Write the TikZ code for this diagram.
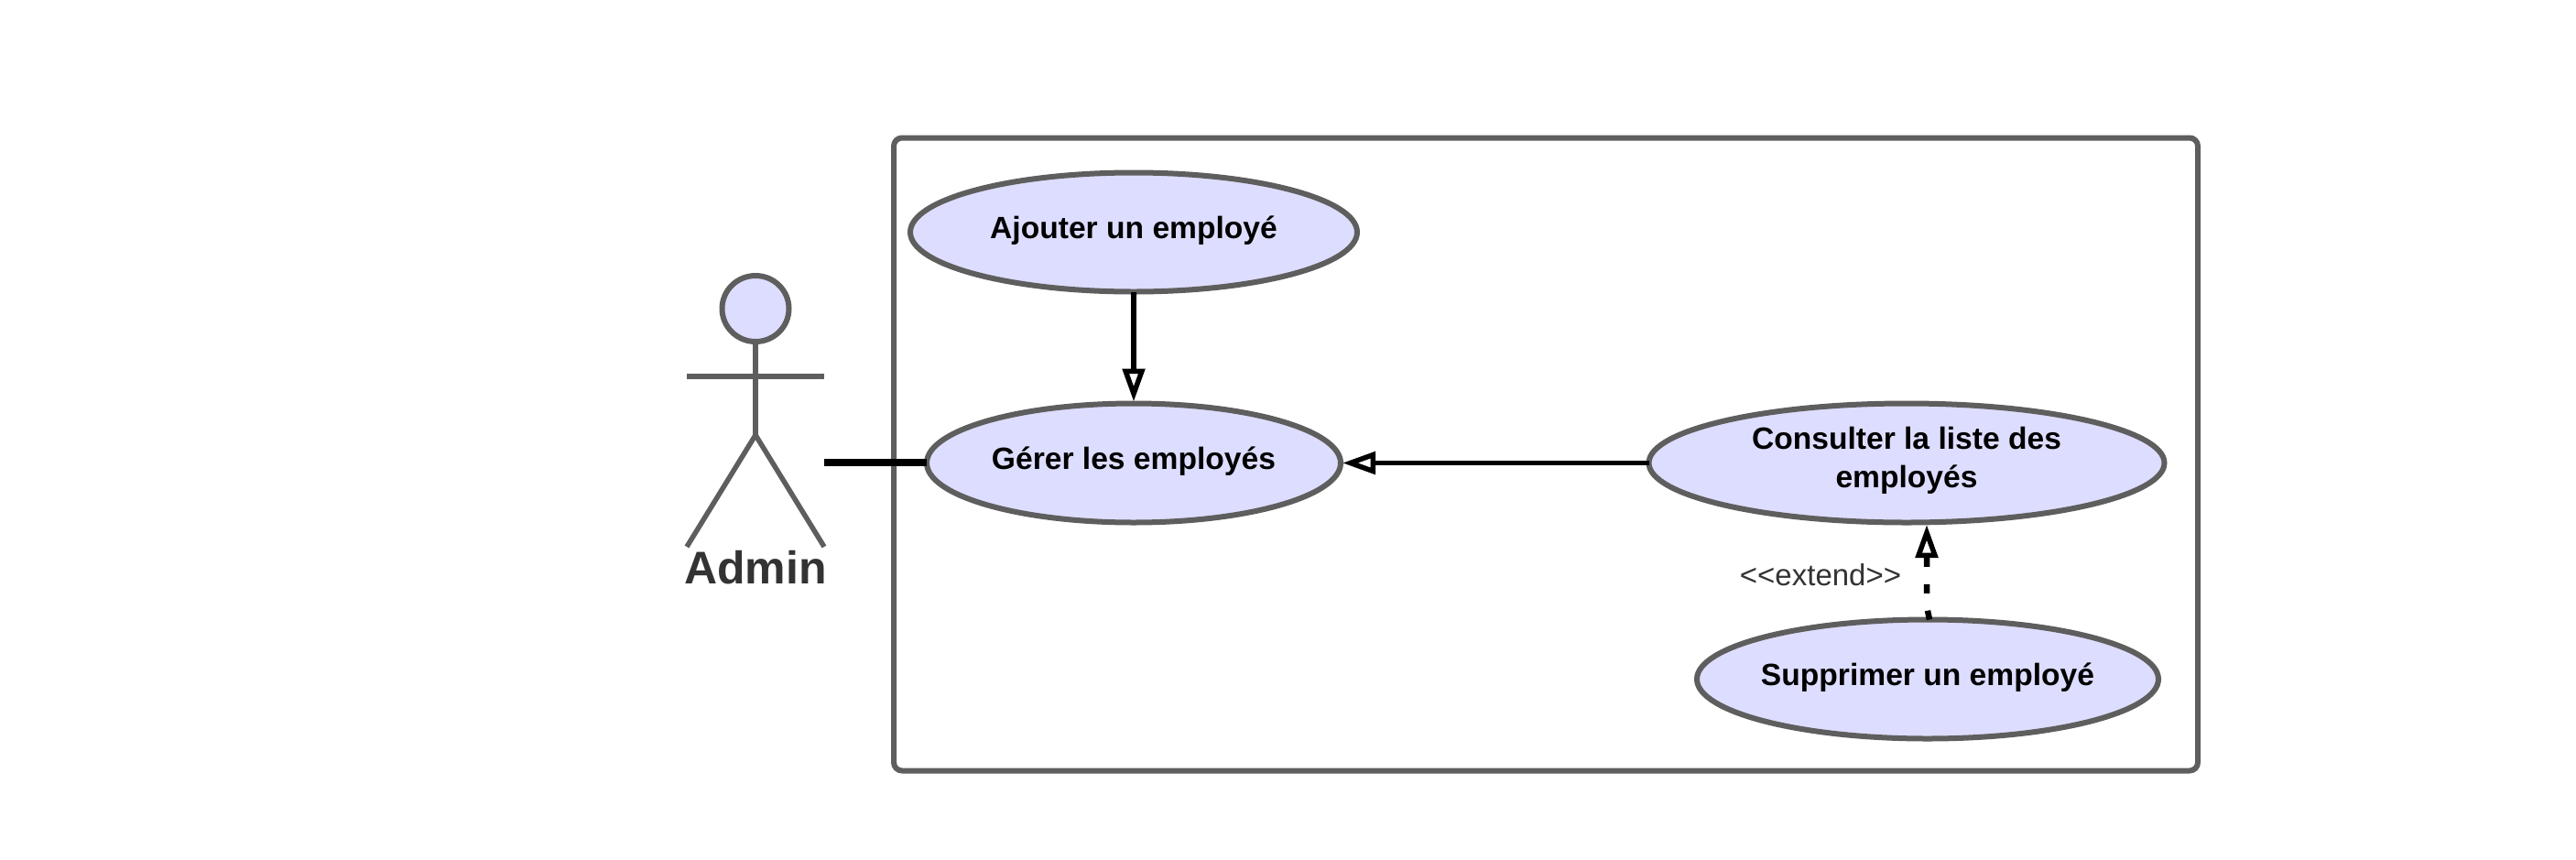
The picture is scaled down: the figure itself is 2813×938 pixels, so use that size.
\documentclass[tikz,border=0pt]{standalone}
\usepackage{fontspec}
\setmainfont{Liberation Sans}
\usetikzlibrary{arrows.meta,shapes.geometric}
\definecolor{strokegray}{HTML}{5E5E5E}
\definecolor{usefill}{HTML}{DDDDFF}
\definecolor{labelgray}{HTML}{333333}
\newcommand{\uselabel}[1]{\raisebox{-6.8pt}[0pt][0pt]{\makebox[0pt]{\fontsize{33.6pt}{40pt}\selectfont\bfseries #1}}}
\newcommand{\twolabel}[2]{\raisebox{-26.5pt}[0pt][0pt]{\fontsize{33.6pt}{40pt}\selectfont\bfseries\vbox{\baselineskip=41.5pt \hbox to 345pt{\hfil #1\hfil}\hbox to 345pt{\hfil #2\hfil}}}}
\tikzset{
  usecase/.style={shape=ellipse,draw=strokegray,fill=usefill,line width=6pt,inner sep=0pt,outer sep=0pt,minimum height=130pt,text=black},
  sysbox/.style={shape=rectangle,draw=strokegray,fill=white,line width=6pt,rounded corners=9pt,inner sep=0pt,outer sep=0pt},
  actorline/.style={draw=strokegray,line width=5.5pt},
  assoc/.style={draw=black,line width=8pt},
  gen/.style={draw=black,line width=5.5pt,-{Triangle[fill=white,length=36pt,width=24pt,line width=5.5pt]}},
  ext/.style={draw=black,line width=6.5pt,dash pattern=on 10pt off 19pt,-{Triangle[fill=white,length=36pt,width=24pt,line width=5.5pt]}},
}
\begin{document}
\begin{tikzpicture}[x=1pt,y=-1pt]
\useasboundingbox (0,0) rectangle (2813,938);
\fill[white] (0,0) rectangle (2813,938);
\node[sysbox,minimum width=1424pt,minimum height=691pt] (sys) at (1688,496) {};
\node[usecase,minimum width=488pt] (aj) at (1238,253.5) {\uselabel{Ajouter un employé}};
\node[usecase,minimum width=452pt] (ge) at (1238,505.5) {\uselabel{Gérer les employés}};
\node[usecase,minimum width=563pt] (co) at (2082,505.5) {\twolabel{Consulter la liste des}{employés}};
\node[usecase,minimum width=504pt] (su) at (2105,741.5) {\uselabel{Supprimer un employé}};
\node[shape=ellipse,draw=strokegray,fill=usefill,line width=6pt,inner sep=0pt,outer sep=0pt,minimum width=73pt,minimum height=72pt] (head) at (825,337) {};
\coordinate (hip) at (825,475);
\coordinate (armL) at (750,411);
\coordinate (armR) at (900,411);
\coordinate (footL) at (750,597);
\coordinate (footR) at (900,597);
\coordinate (adm) at (900,505);
\coordinate (extbend) at (2104,662);
\draw[actorline] (head.south) -- (hip);
\draw[actorline,line width=6pt] (armL) -- (armR);
\draw[actorline] (footL) -- (hip) -- (footR);
\node[anchor=base,inner sep=0pt,text=labelgray,font=\fontsize{50pt}{56pt}\selectfont\bfseries] (admin) at (825,637) {Admin};
\draw[assoc] (adm) -- (ge.west |- adm);
\draw[gen] (aj.south) -- ([yshift=2pt]ge.north);
\draw[gen] (co.west) -- ([xshift=2pt]ge.east);
\draw[ext] ([xshift=2pt]su.north) -- (extbend) -- ([yshift=-2.5pt]co.south -| extbend);
\node[anchor=base,inner sep=0pt,text=labelgray,font=\fontsize{33pt}{40pt}\selectfont] (extl) at (1988,639) {<{}<extend>{}>};
\end{tikzpicture}
\end{document}
